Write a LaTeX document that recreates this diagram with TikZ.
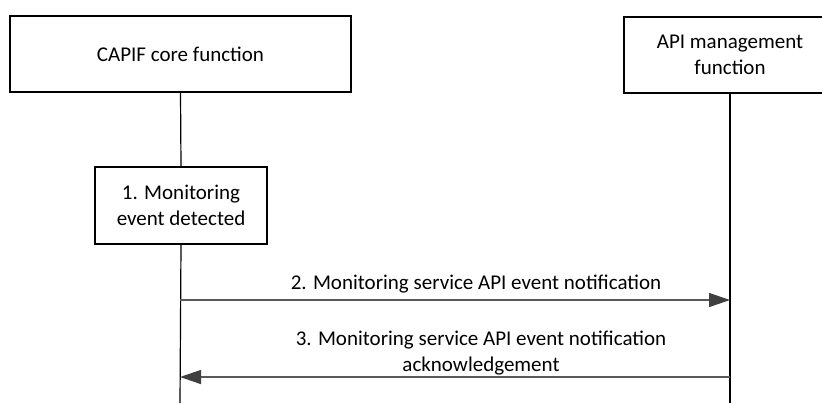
\documentclass[tikz,border=0pt]{standalone}
\usepackage{fontspec}
\setmainfont{Carlito}
\usetikzlibrary{arrows.meta}
\begin{document}
\begin{tikzpicture}[x=0.5pt,y=-0.5pt,
  every node/.style={font=\fontsize{10.5}{13}\selectfont},
  entity/.style={draw, line width=0.6pt, align=center, inner sep=0pt, minimum height=38pt},
  life/.style={line width=0.6pt},
  msg/.style={draw=black!65, line width=0.7pt, -{Triangle[length=10.5pt,width=7pt,color=black!75]}},
  lbl/.style={align=center, inner sep=0pt}]
\useasboundingbox (0,0) rectangle (822,403);
\clip (0,0) rectangle (822,403);
\node[entity, minimum width=170.5pt] (capif) at (180.5,54) {CAPIF core function};
\node[entity, minimum width=106pt] (api) at (730,55) {API management\\function};
\node[entity, minimum width=86pt, minimum height=38.5pt] (step) at (181,205.5) {1. Monitoring\\event detected};
\coordinate (lend) at (180,403);
\coordinate (rend) at (730,403);
\draw[life] (capif.south) -- (step.north);
\draw[life] (step.south) -- (lend);
\draw[life] (api.south) -- (rend);
\coordinate (m2s) at (180,300);
\coordinate (m2e) at (730,300);
\coordinate (m3s) at (730,377);
\coordinate (m3e) at (180,377);
\draw[msg] (m2s) -- (m2e);
\draw[msg] (m3s) -- (m3e);
\node[lbl, anchor=base] (l2) at (476,289) {2. Monitoring service API event notification};
\node[lbl] (l3) at (481,353) {3. Monitoring service API event notification\\acknowledgement};
\end{tikzpicture}
\end{document}
